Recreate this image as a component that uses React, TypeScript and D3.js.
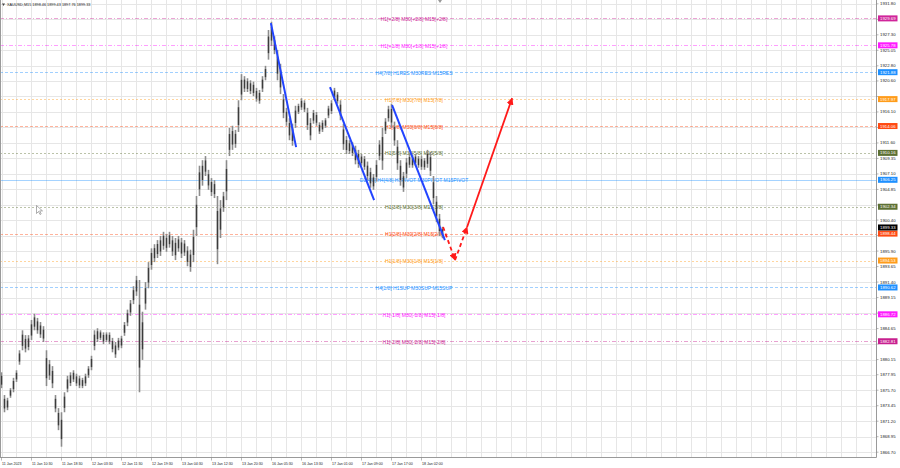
import React from 'react';
import * as d3 from 'd3';

const W = 900;
const H = 468;
const plotRight = 876.5;
const plotBottom = 457.5;

const symbolTitle = 'XAUUSD,M15';
const ohlcTitle = ['1898.46', '1899.43', '1897.76', '1899.33'];

const priceTicks = [
  1931.8, 1929.55, 1927.3, 1925.05, 1922.8, 1920.6, 1918.35, 1916.1, 1913.85, 1911.6,
  1909.35, 1907.1, 1904.85, 1902.6, 1900.4, 1898.15, 1895.9, 1893.65, 1891.4, 1889.15,
  1886.9, 1884.65, 1882.4, 1880.15, 1877.95, 1875.7, 1873.45, 1871.2, 1868.95, 1866.7,
];

const timeLabels = [
  '11 Jan 2023', '11 Jan 10:30', '11 Jan 18:30', '12 Jan 03:30', '12 Jan 11:30',
  '12 Jan 19:30', '13 Jan 04:30', '13 Jan 12:30', '13 Jan 20:30', '16 Jan 05:30',
  '16 Jan 13:30', '17 Jan 01:00', '17 Jan 09:00', '17 Jan 17:00', '18 Jan 02:00',
];

// aggregated bars (each slot ~ 48 minutes)
const barHighs = [
  1878.3, 1875.0, 1874.6, 1876.0, 1877.5, 1878.6, 1881.5, 1884.4, 1883.7, 1883.7,
  1885.9, 1886.8, 1886.2, 1885.6, 1885.0, 1881.5, 1880.1, 1879.2, 1875.0, 1873.1,
  1872.5, 1875.4, 1877.8, 1878.3, 1878.6, 1878.1, 1877.8, 1877.5, 1878.1, 1879.2,
  1880.7, 1884.4, 1884.7, 1884.4, 1884.1, 1884.1, 1884.1, 1883.3, 1882.7, 1883.3,
  1883.6, 1885.6, 1887.4, 1888.8, 1890.8, 1892.3, 1891.7, 1887.1, 1891.4, 1894.3,
  1896.3, 1896.9, 1897.5, 1898.1, 1898.7, 1898.4, 1898.7, 1898.1, 1897.8, 1898.1,
  1897.8, 1897.5, 1896.6, 1896.1, 1899.0, 1903.9, 1908.3, 1909.1, 1909.7, 1907.7,
  1906.5, 1906.2, 1903.9, 1903.3, 1904.5, 1909.1, 1913.8, 1914.1, 1913.5, 1917.8,
  1921.6, 1921.3, 1921.0, 1920.7, 1920.5, 1919.6, 1919.3, 1921.3, 1922.8, 1928.0,
  1929.2, 1927.1, 1925.1, 1923.1, 1918.7, 1916.7, 1915.2, 1914.4, 1917.0, 1917.3,
  1918.1, 1917.8, 1916.7, 1915.2, 1916.4, 1916.1, 1914.6, 1914.9, 1915.2, 1917.0,
  1917.8, 1919.6, 1919.0, 1917.8, 1914.4, 1912.6, 1912.0, 1911.7, 1911.2, 1910.6,
  1910.0, 1909.7, 1908.9, 1908.0, 1907.1, 1909.1, 1912.0, 1913.8, 1915.2, 1917.0,
  1917.3, 1914.7, 1912.0, 1909.1, 1907.4, 1909.4, 1910.0, 1909.7, 1910.0, 1909.7,
  1909.7, 1909.4, 1910.6, 1910.3, 1906.8, 1903.9, 1901.3, 1899.43,
];
const barLows = [
  1876.0, 1872.5, 1872.8, 1874.6, 1875.4, 1876.9, 1879.4, 1881.5, 1881.2, 1881.5,
  1883.0, 1884.4, 1883.9, 1883.3, 1882.7, 1876.3, 1877.2, 1876.0, 1872.5, 1869.9,
  1867.5, 1872.5, 1875.4, 1876.3, 1876.9, 1876.3, 1876.0, 1876.0, 1876.3, 1877.5,
  1878.6, 1881.5, 1882.7, 1883.0, 1882.4, 1882.7, 1882.4, 1881.2, 1880.4, 1881.5,
  1881.8, 1883.6, 1885.0, 1886.5, 1888.2, 1889.4, 1875.4, 1880.1, 1887.4, 1890.5,
  1893.2, 1894.3, 1894.9, 1895.2, 1896.1, 1895.8, 1896.4, 1895.2, 1894.6, 1895.8,
  1894.9, 1895.2, 1893.7, 1892.9, 1894.3, 1898.1, 1903.9, 1905.4, 1906.8, 1904.8,
  1903.9, 1903.6, 1894.0, 1897.8, 1901.6, 1903.3, 1909.7, 1910.6, 1910.9, 1913.2,
  1917.8, 1919.0, 1919.0, 1918.7, 1918.4, 1917.6, 1917.3, 1919.0, 1920.7, 1923.7,
  1925.7, 1924.5, 1920.7, 1918.7, 1915.2, 1914.1, 1912.0, 1911.2, 1913.8, 1915.8,
  1916.4, 1916.1, 1913.5, 1912.0, 1914.4, 1914.1, 1912.9, 1913.2, 1913.8, 1915.2,
  1915.8, 1917.8, 1917.3, 1914.9, 1910.6, 1910.0, 1910.0, 1909.7, 1908.5, 1908.0,
  1908.3, 1907.7, 1906.2, 1905.1, 1904.8, 1906.0, 1909.1, 1907.7, 1912.9, 1914.7,
  1913.8, 1911.2, 1907.7, 1905.4, 1904.5, 1906.5, 1908.0, 1908.0, 1908.3, 1908.0,
  1907.7, 1907.7, 1908.0, 1906.8, 1902.7, 1900.1, 1898.1, 1897.76,
];

const currentPrice = 1899.33;

const levelPrices = [
  1929.69, 1925.78, 1921.88, 1917.97, 1914.06, 1910.16, 1906.25,
  1902.34, 1898.44, 1894.53, 1890.62, 1886.72, 1882.81,
];
const levelNames = [
  'H1[+2/8] M30[+2/8] M15[+2/8]',
  'H1[+1/8] M30[+1/8] M15[+1/8]',
  'H4[7/8] H1RES M30RES M15RES',
  'H1[7/8] M30[7/8] M15[7/8]',
  'H1[6/8] M30[6/8] M15[6/8]',
  'H1[5/8] M30[5/8] M15[5/8]',
  'D1[4/8] H4[4/8] H1PIVOT M30PIVOT M15PIVOT',
  'H1[3/8] M30[3/8] M15[3/8]',
  'H1[2/8] M30[2/8] M15[2/8]',
  'H1[1/8] M30[1/8] M15[1/8]',
  'H4[1/8] H1SUP M30SUP M15SUP',
  'H1[-1/8] M30[-1/8] M15[-1/8]',
  'H1[-2/8] M30[-2/8] M15[-2/8]',
];
const levelColors = [
  '#d0259a', '#ff1aff', '#1e90ff', '#ff9c1a', '#ff4a12', '#5d7033', '#1e90ff',
  '#5d7033', '#ff4a12', '#ff9c1a', '#1e90ff', '#ff1aff', '#c8208f',
];
const levelDash = [
  '4,2,1,2', '4,2,1,2', '3,2', '2,2', '3,2', '2,2', '',
  '2,2', '3,2', '2,2', '3,2', '4,2,1,2', '4,2,1,2',
];

// drawn objects: [slot, price]
const trendLines: [number, number][][] = [
  [[89.8, 1929.0], [98.2, 1911.0]],
  [[109.5, 1919.7], [124.2, 1903.3]],
  [[130.2, 1917.1], [147.8, 1897.5]],
];
const forecastDown: [number, number][] = [[147.2, 1899.4], [151.2, 1894.6]];
const forecastBack: [number, number][] = [[151.2, 1894.6], [155.2, 1899.4]];
const forecastUp: [number, number][] = [[155.2, 1899.4], [170.2, 1918.1]];

const x = d3.scaleLinear().domain([0, 291.67]).range([1.5, plotRight]);
const y = d3.scaleLinear().domain([1865.93, 1932.36]).range([plotBottom, 0]);

const lineGen = d3
  .line<[number, number]>()
  .x((d) => x(d[0]))
  .y((d) => y(d[1]));

export default function App() {
  const labelsPerSlot = 10;
  const gridV = d3.range(0, 292, 5);
  const fontAx = '"Liberation Sans", Arial, sans-serif';
  const boxPrices = levelPrices.concat([currentPrice]);
  const visibleTicks = priceTicks.filter((p) => boxPrices.every((b) => Math.abs(y(b) - y(p)) > 5));
  return (
    <svg
      width={W}
      height={H}
      style={{ position: 'absolute', left: 0, top: 0, background: '#fff' }}
      fontFamily={fontAx}
    >
      <defs>
        <marker id="arrRed" viewBox="0 0 10 10" refX="9" refY="5" markerWidth="4" markerHeight="4" orient="auto">
          <path d="M0,0 L10,5 L0,10 z" fill="#ff1a1a" />
        </marker>
      </defs>
      <rect x={0} y={0} width={W} height={H} fill="#fff" />
      {/* grid */}
      <g stroke="#e6e6e6" strokeWidth={1}>
        {gridV.map((s) => (
          <line key={'gv' + s} x1={Math.round(x(s)) + 0.5} x2={Math.round(x(s)) + 0.5} y1={0} y2={plotBottom} />
        ))}
        {priceTicks.map((p) => (
          <line key={'gh' + p} x1={0} x2={plotRight} y1={Math.round(y(p)) + 0.5} y2={Math.round(y(p)) + 0.5} />
        ))}
      </g>
      {/* level lines */}
      <g>
        {levelPrices.map((p, i) => (
          <line
            key={'lv' + i}
            x1={0}
            x2={plotRight}
            y1={Math.round(y(p)) + 0.5}
            y2={Math.round(y(p)) + 0.5}
            stroke={levelColors[i]}
            strokeOpacity={levelDash[i] === '' ? 0.4 : 0.42}
            strokeWidth={1}
            strokeDasharray={levelDash[i] || undefined}
          />
        ))}
      </g>
      {/* level labels */}
      <g fontSize={5} textAnchor="middle">
        {levelPrices.map((p, i) => (
          <text key={'lt' + i} x={414} y={y(p) + 2.6} fill={levelColors[i]}>
            {levelNames[i]}
          </text>
        ))}
      </g>
      {/* bars */}
      <g>
        {barHighs.map((h, i) => {
          const yh = y(h);
          const yl = y(barLows[i]);
          const inset = (yl - yh) * 0.22;
          return (
            <g key={'b' + i}>
              <line x1={x(i)} x2={x(i)} y1={yh} y2={yl} stroke="#8c8c8c" strokeWidth={1.6} />
              <rect x={x(i) - 0.7} y={yh + inset} width={1.4} height={Math.max(1, yl - yh - 2 * inset)} fill="#3c3c3c" />
            </g>
          );
        })}
      </g>
      {/* trend lines */}
      <g stroke="#2244ff" strokeWidth={2} fill="none">
        {trendLines.map((t, i) => (
          <path key={'tl' + i} d={lineGen(t) || ''} />
        ))}
      </g>
      {/* forecast arrows */}
      <g stroke="#ff1a1a" strokeWidth={1.8} fill="none">
        <path d={lineGen(forecastDown) || ''} strokeDasharray="4,3" markerEnd="url(#arrRed)" />
        <path d={lineGen(forecastBack) || ''} strokeDasharray="4,3" markerEnd="url(#arrRed)" />
        <path d={lineGen(forecastUp) || ''} markerEnd="url(#arrRed)" />
      </g>
      {/* shift marker */}
      <path d={`M${x(145.5)},0 l4,0 l-2,3 z`} fill="#999" />
      {/* mouse cursor */}
      <path d="M36.5,205.5 l0,8 l2,-2 l1.5,3 l1.2,-0.6 l-1.5,-3 l2.8,0 z" fill="#fff" stroke="#777" strokeWidth={0.6} />
      {/* frame */}
      <line x1={plotRight} x2={plotRight} y1={0} y2={plotBottom} stroke="#9a9a9a" />
      <line x1={0} x2={plotRight} y1={plotBottom} y2={plotBottom} stroke="#9a9a9a" />
      <line x1={0.5} x2={0.5} y1={0} y2={plotBottom} stroke="#9a9a9a" />
      {/* price axis ticks */}
      <g fontSize={4.3} fill="#222">
        {priceTicks.map((p) => (
          <line key={'ptk' + p} x1={plotRight} x2={plotRight + 2} y1={y(p)} y2={y(p)} stroke="#888" strokeWidth={0.6} />
        ))}
        {visibleTicks.map((p) => (
          <text key={'pt' + p} x={880} y={y(p) + 1.5}>{p.toFixed(2)}</text>
        ))}
      </g>
      {/* level price labels */}
      <g fontSize={4.3}>
        {levelPrices.map((p, i) => (
          <g key={'lp' + i}>
            <rect x={878} y={y(p) - 3} width={19.5} height={6} fill={levelColors[i]} />
            <text x={880} y={y(p) + 1.5} fill="#fff">{p.toFixed(2)}</text>
          </g>
        ))}
        <rect x={878} y={y(currentPrice) - 3} width={19.5} height={6} fill="#000" />
        <text x={880} y={y(currentPrice) + 1.5} fill="#fff">{currentPrice.toFixed(2)}</text>
      </g>
      {/* time axis */}
      <g fontSize={3.6} fill="#222">
        {timeLabels.map((t, k) => (
          <g key={'tm' + k}>
            <line x1={x(k * labelsPerSlot)} x2={x(k * labelsPerSlot)} y1={plotBottom} y2={plotBottom + 3} stroke="#888" strokeWidth={0.6} />
            <text x={x(k * labelsPerSlot) + 0.5} y={464.5}>{t}</text>
          </g>
        ))}
      </g>
      {/* title */}
      <g fontSize={3.8} fill="#222">
        <path d="M2,3.5 l3,0 l-1.5,2.5 z" fill="#444" />
        <text x={7} y={6}>
          {symbolTitle + '  ' + ohlcTitle.join(' ')}
        </text>
      </g>
    </svg>
  );
}
